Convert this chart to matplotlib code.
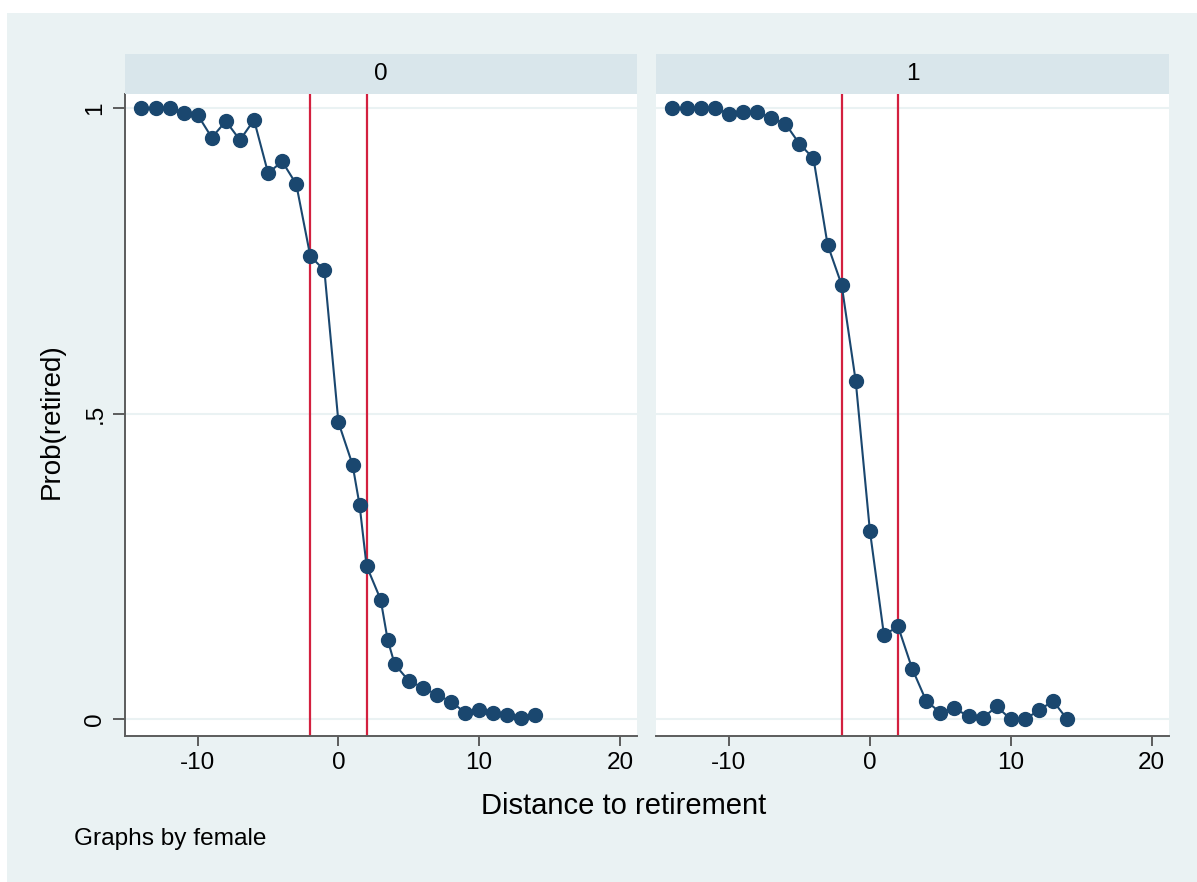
import matplotlib
matplotlib.use('Agg')
import matplotlib.pyplot as plt
from matplotlib.patches import Rectangle

plt.rcParams['font.family'] = ['Liberation Sans', 'DejaVu Sans']

# female = 0
dist_0 = [-14, -13, -12, -11, -10, -9, -8, -7, -6, -5, -4, -3, -2, -1,
          0, 1, 1.5, 2, 3, 3.5, 4, 5, 6, 7, 8, 9, 10, 11, 12, 13, 14]
prob_0 = [1.0, 1.0, 1.0, 0.993, 0.989, 0.952, 0.979, 0.948, 0.981, 0.894, 0.913,
          0.876, 0.758, 0.735, 0.486, 0.417, 0.351, 0.251, 0.196, 0.130, 0.090,
          0.063, 0.052, 0.040, 0.029, 0.011, 0.015, 0.011, 0.007, 0.002, 0.007]

# female = 1
dist_1 = list(range(-14, 15))
prob_1 = [1.0, 1.0, 1.0, 1.0, 0.991, 0.994, 0.994, 0.984, 0.975, 0.942, 0.918,
          0.777, 0.711, 0.553, 0.309, 0.138, 0.152, 0.083, 0.030, 0.011, 0.018,
          0.005, 0.002, 0.021, 0.0, 0.0, 0.015, 0.030, 0.0]

panels = ['0', '1']
cutoffs = [-2, 2]

BG = '#EAF2F3'
STRIP = '#D9E6EB'
NAVY = '#1A476F'
RED = '#D3203F'
AXIS = '#5C5C5C'

W, H = 1197, 882
fig = plt.figure(figsize=(W / 100, H / 100), dpi=100, facecolor='white')
fig.patches.append(Rectangle((7 / W, 0), 1 - 7 / W, (H - 13) / H,
                             transform=fig.transFigure, facecolor=BG,
                             edgecolor='none', zorder=-10))


def px_box(left, top, right, bottom):
    return [left / W, (H - bottom) / H, (right - left) / W, (bottom - top) / H]


xs = [(125, 637), (656, 1169)]
data = [(dist_0, prob_0), (dist_1, prob_1)]

for i, (x0, x1) in enumerate(xs):
    ax = fig.add_axes(px_box(x0, 94, x1, 736))
    ax.set_facecolor('white')
    for y in [0, 0.5, 1]:
        ax.axhline(y, color=BG, lw=1.5, zorder=0)
    for c in cutoffs:
        ax.axvline(c, color=RED, lw=1.6, zorder=1)
    d, p = data[i]
    ax.plot(d, p, color=NAVY, lw=1.5, marker='o', markersize=10, zorder=3)
    ax.set_xlim(-15.17, 21.22)
    ax.set_ylim(-0.0273, 1.0234)
    ax.set_xticks([-10, 0, 10, 20])
    ax.set_xticklabels(['-10', '0', '10', '20'])
    ax.tick_params(axis='x', direction='out', length=7.5, width=1.4,
                   color=AXIS, labelsize=17.5, pad=4)
    ax.spines['top'].set_visible(False)
    ax.spines['right'].set_visible(False)
    ax.spines['bottom'].set_color(AXIS)
    ax.spines['bottom'].set_linewidth(1.4)
    if i == 0:
        ax.spines['left'].set_color(AXIS)
        ax.spines['left'].set_linewidth(1.4)
        ax.set_yticks([0, 0.5, 1])
        ax.set_yticklabels(['0', '.5', '1'], rotation=90, va='center')
        ax.tick_params(axis='y', direction='out', length=8.5, width=1.4,
                       color=AXIS, labelsize=17.5, pad=5)
    else:
        ax.spines['left'].set_visible(False)
        ax.set_yticks([])

    # strip on top of each panel
    sax = fig.add_axes(px_box(x0, 54, x1, 93.5))
    sax.set_facecolor(STRIP)
    sax.set_xticks([])
    sax.set_yticks([])
    for s in sax.spines.values():
        s.set_visible(False)
    sax.text(0.5, 0.5, panels[i], ha='center', va='center', fontsize=17.5,
             transform=sax.transAxes)

fig.text(624 / W, 1 - 806 / H, 'Distance to retirement', ha='center',
         va='center', fontsize=21)
fig.text(52 / W, 1 - 421 / H, 'Prob(retired)', ha='center', va='center',
         rotation=90, fontsize=20)
fig.text(74 / W, 1 - 839 / H, 'Graphs by female', ha='left', va='center',
         fontsize=17.6)

fig.savefig('out.png', dpi=100, facecolor=fig.get_facecolor())
